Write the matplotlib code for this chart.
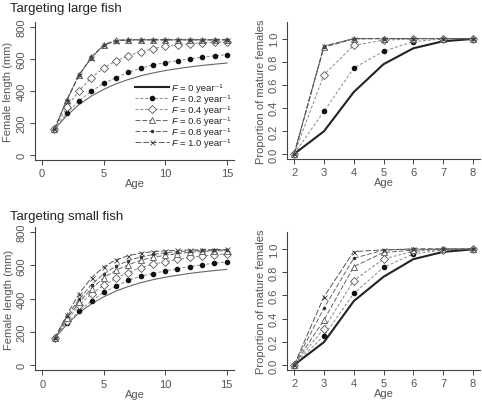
import matplotlib
matplotlib.use("Agg")
import matplotlib.pyplot as plt
from matplotlib.lines import Line2D
from matplotlib.offsetbox import TextArea

plt.rcParams['font.family'] = ['Liberation Sans', 'DejaVu Sans']

# ---------------- data ----------------
ages_len = list(range(1, 16))
ages_mat = list(range(2, 9))
f_labels = ['0', '0.2', '0.4', '0.6', '0.8', '1.0']

# Targeting large fish: female length (mm)
large_len_F0 = [160, 245, 315, 368, 410, 445, 472, 495, 513, 528, 540, 551, 560, 568, 575]
large_len_F02 = [160, 260, 339, 398, 448, 484, 517, 543, 563, 578, 590, 601, 612, 620, 628]
large_len_F04 = [160, 297, 402, 482, 545, 588, 622, 645, 665, 680, 690, 697, 702, 706, 708]
large_len_F06 = [160, 342, 500, 610, 690, 718, 722, 722, 722, 722, 722, 722, 722, 722, 722]
large_len_F08 = [160, 342, 500, 610, 688, 716, 720, 720, 720, 720, 720, 720, 720, 720, 720]
large_len_F10 = [160, 340, 498, 608, 686, 714, 719, 720, 720, 720, 720, 720, 720, 720, 720]

# Targeting large fish: proportion mature
large_mat_F0 = [0.0, 0.196, 0.536, 0.778, 0.916, 0.977, 0.997]
large_mat_F02 = [0.0, 0.369, 0.744, 0.890, 0.974, 0.997, 1.0]
large_mat_F04 = [0.0, 0.686, 0.942, 0.986, 0.997, 1.0, 1.0]
large_mat_F06 = [0.0, 0.925, 0.997, 1.0, 1.0, 1.0, 1.0]
large_mat_F08 = [0.0, 0.930, 1.0, 1.0, 1.0, 1.0, 1.0]
large_mat_F10 = [0.0, 0.935, 1.0, 1.0, 1.0, 1.0, 1.0]

# Targeting small fish: female length (mm)
small_len_F0 = [160, 245, 315, 368, 410, 445, 472, 495, 513, 528, 540, 551, 560, 568, 575]
small_len_F02 = [160, 250, 326, 385, 437, 474, 510, 534, 550, 566, 580, 592, 603, 612, 620]
small_len_F04 = [160, 266, 361, 428, 480, 522, 556, 586, 606, 622, 636, 647, 656, 662, 668]
small_len_F06 = [160, 280, 377, 460, 525, 570, 603, 630, 648, 660, 670, 678, 683, 686, 688]
small_len_F08 = [160, 292, 397, 484, 548, 595, 628, 650, 665, 675, 682, 686, 689, 691, 692]
small_len_F10 = [160, 303, 430, 525, 590, 633, 658, 673, 682, 687, 690, 692, 693, 694, 695]

# Targeting small fish: proportion mature
small_mat_F0 = [0.0, 0.196, 0.550, 0.760, 0.912, 0.975, 0.997]
small_mat_F02 = [0.0, 0.250, 0.617, 0.841, 0.957, 0.991, 1.0]
small_mat_F04 = [0.0, 0.314, 0.726, 0.914, 0.980, 0.994, 1.0]
small_mat_F06 = [0.0, 0.386, 0.847, 0.970, 0.990, 1.0, 1.0]
small_mat_F08 = [0.0, 0.490, 0.920, 0.990, 1.0, 1.0, 1.0]
small_mat_F10 = [0.0, 0.588, 0.977, 0.993, 1.0, 1.0, 1.0]

len_ticks_x = [0, 5, 10, 15]
len_ticks_y = [0, 200, 400, 600, 800]
mat_ticks_x = [2, 3, 4, 5, 6, 7, 8]
mat_ticks_y = [0.0, 0.2, 0.4, 0.6, 0.8, 1.0]

# ---------------- styles ----------------
GRAY_TXT = '#555555'
styles = [
    dict(color='#222222', lw=1.5, ls='-', marker=None),
    dict(color='#888888', lw=0.7, ls=(0, (3, 2)), marker='o', ms=3, mfc='#111111', mec='#111111'),
    dict(color='#888888', lw=0.7, ls=(0, (3, 2)), marker='D', ms=3.6, mfc='white', mec='#555555', mew=0.6),
    dict(color='#666666', lw=0.7, ls=(0, (5, 2)), marker='^', ms=4.2, mfc='white', mec='#555555', mew=0.6),
    dict(color='#666666', lw=0.7, ls=(0, (5, 2)), marker='o', ms=1.5, mfc='#333333', mec='#333333'),
    dict(color='#555555', lw=0.7, ls=(0, (6, 2)), marker='x', ms=3.6, mec='#444444', mew=0.6),
]

W, H = 482, 402
fig = plt.figure(figsize=(W / 100, H / 100), dpi=100)


def px_axes(x0, x1, ytop, ybot):
    return fig.add_axes([x0 / W, 1 - ybot / H, (x1 - x0) / W, (ybot - ytop) / H])


def style_ax(ax, xt, yt, xlim, ylim, ylabel, yfmt):
    ax.set_xlim(*xlim)
    ax.set_ylim(*ylim)
    for s in ['top', 'right']:
        ax.spines[s].set_visible(False)
    for s in ['left', 'bottom']:
        ax.spines[s].set_color('#444444')
        ax.spines[s].set_linewidth(0.8)
    ax.set_xticks(xt)
    ax.set_yticks(yt)
    ax.set_yticklabels([yfmt(v) for v in yt], rotation=90, va='center')
    ax.tick_params(direction='out', length=3.5, width=0.7, color='#444444',
                   labelsize=8, labelcolor=GRAY_TXT, pad=2.5)
    ax.set_xlabel('Age', fontsize=8, color=GRAY_TXT, labelpad=0)
    ax.set_ylabel(ylabel, fontsize=8, color=GRAY_TXT, labelpad=2)


def draw(ax, x, series, thin_first=False):
    for i, (y, st) in enumerate(zip(series, styles)):
        st = dict(st)
        if i == 0 and thin_first:
            st['color'] = '#666666'
            st['lw'] = 0.8
        ax.plot(x, y, zorder=3 + i, **st)


# top-left
ax1 = px_axes(34.6, 234.4, 23, 161)
style_ax(ax1, len_ticks_x, len_ticks_y, (-0.6, 15.6), (-32, 832), 'Female length (mm)', lambda v: '%d' % v)
draw(ax1, ages_len, [large_len_F0, large_len_F02, large_len_F04, large_len_F06, large_len_F08, large_len_F10], thin_first=True)

LEG_FS = 6.8
handles = [Line2D([], [], **dict(st)) for st in styles]
leg = ax1.legend(handles, ['= %s year\u207b\u00b9' % f for f in f_labels],
                 loc='upper left', bbox_to_anchor=((135 - 34.6) / 200, (161 - 84) / 138),
                 frameon=False, fontsize=LEG_FS, handlelength=3.6, handletextpad=0.3,
                 labelspacing=0.22, borderpad=0, borderaxespad=0)
for t in leg.get_texts():
    t.set_color('#222222')
# insert an italic "F" before each legend label
try:
    for col in leg._legend_handle_box.get_children():
        for entry in col.get_children():
            ta = TextArea('F', textprops=dict(fontsize=LEG_FS, style='italic', color='#222222'))
            ta.set_figure(fig)
            entry.get_children().insert(1, ta)
except Exception:
    pass

# top-right
ax2 = px_axes(287, 480, 23, 160)
style_ax(ax2, mat_ticks_x, mat_ticks_y, (1.76, 8.24), (-0.044, 1.144), 'Proportion of mature females', lambda v: '%.1f' % v)
draw(ax2, ages_mat, [large_mat_F0, large_mat_F02, large_mat_F04, large_mat_F06, large_mat_F08, large_mat_F10])

# bottom-left
ax3 = px_axes(35, 234, 227.7, 371.3)
style_ax(ax3, len_ticks_x, len_ticks_y, (-0.6, 15.6), (-32, 832), 'Female length (mm)', lambda v: '%d' % v)
draw(ax3, ages_len, [small_len_F0, small_len_F02, small_len_F04, small_len_F06, small_len_F08, small_len_F10], thin_first=True)

# bottom-right
ax4 = px_axes(287, 480, 233.3, 371)
style_ax(ax4, mat_ticks_x, mat_ticks_y, (1.76, 8.24), (-0.044, 1.144), 'Proportion of mature females', lambda v: '%.1f' % v)
draw(ax4, ages_mat, [small_mat_F0, small_mat_F02, small_mat_F04, small_mat_F06, small_mat_F08, small_mat_F10])

fig.text(10 / W, 1 - 9 / H, 'Targeting large fish', fontsize=9.5, color='#222222', va='center', ha='left')
fig.text(10 / W, 1 - 217 / H, 'Targeting small fish', fontsize=9.5, color='#222222', va='center', ha='left')

fig.savefig('out.png', dpi=100)
